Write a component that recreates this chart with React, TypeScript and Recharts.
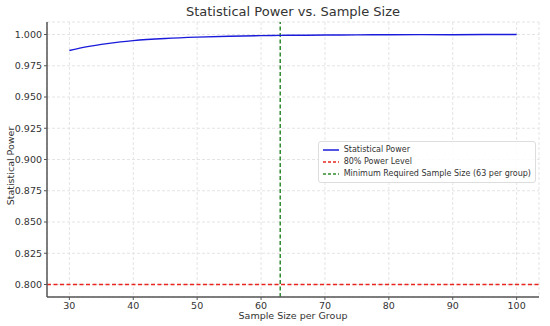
import {
  CartesianGrid,
  Line,
  LineChart,
  ReferenceLine,
  XAxis,
  YAxis,
} from "recharts";

const sampleSizes = [30, 32, 35, 38, 40, 45, 50, 55, 60, 63, 65, 70, 75, 80, 85, 90, 95, 100];
const powerValues = [
  0.9872, 0.9895, 0.9921, 0.9941, 0.9951, 0.9968, 0.9979, 0.9986, 0.9991, 0.9993,
  0.9994, 0.9996, 0.9997, 0.9998, 0.9999, 0.9999, 0.99995, 0.99997,
];
const xTicks = [30, 40, 50, 60, 70, 80, 90, 100];
const yTicks = [0.8, 0.825, 0.85, 0.875, 0.9, 0.925, 0.95, 0.975, 1.0];

const powerThreshold = 0.8;
const requiredSize = 63;

const data = sampleSizes.map((n, i) => ({ n, power: powerValues[i] }));

const font = "DejaVu Sans, sans-serif";
const tickStyle = { fontSize: 9.5, fill: "#333", fontFamily: font };

function LegendBox() {
  const items = [
    { label: "Statistical Power", color: "#1a1adb", dash: undefined },
    { label: "80% Power Level", color: "#e8271c", dash: "3 2" },
    { label: "Minimum Required Sample Size (63 per group)", color: "#2f8a2f", dash: "3 2" },
  ];
  return (
    <div
      style={{
        position: "absolute",
        right: 14,
        top: 141,
        border: "1px solid #ddd",
        borderRadius: 3,
        background: "rgba(255,255,255,0.85)",
        padding: "2px 4px 2px 4px",
        fontFamily: font,
        fontSize: 8,
        color: "#333",
        lineHeight: "12px",
        whiteSpace: "nowrap",
      }}
    >
      {items.map((it) => (
        <div key={it.label} style={{ display: "flex", alignItems: "center" }}>
          <svg width={16} height={8} style={{ marginRight: 5 }}>
            <line x1={0} y1={4} x2={16} y2={4} stroke={it.color} strokeWidth={1.5} strokeDasharray={it.dash} />
          </svg>
          {it.label}
        </div>
      ))}
    </div>
  );
}

export default function App() {
  return (
    <div style={{ position: "absolute", left: 0, top: 0, width: 550, height: 326, background: "#fff" }}>
      <LineChart
        width={550}
        height={326}
        data={data}
        margin={{ top: 22, right: 11, bottom: 0, left: 0 }}
      >
        <CartesianGrid stroke="#e4e4e4" strokeDasharray="3 2" />
        <XAxis
          dataKey="n"
          type="number"
          domain={[26.5, 103.5]}
          ticks={xTicks}
          height={29}
          tick={tickStyle}
          tickSize={3}
          axisLine={{ stroke: "#555", strokeWidth: 1.5 }}
          tickLine={{ stroke: "#555" }}
          allowDataOverflow
        />
        <YAxis
          type="number"
          domain={[0.79, 1.01]}
          ticks={yTicks}
          width={47}
          tick={tickStyle}
          tickSize={3}
          tickFormatter={(v: number) => v.toFixed(3)}
          axisLine={{ stroke: "#555", strokeWidth: 1.5 }}
          tickLine={{ stroke: "#555" }}
          allowDataOverflow
        />
        <ReferenceLine y={powerThreshold} stroke="#e8271c" strokeWidth={1.5} strokeDasharray="4 2.5" />
        <ReferenceLine x={requiredSize} stroke="#2f8a2f" strokeWidth={1.5} strokeDasharray="4 2.5" />
        <Line
          dataKey="power"
          type="monotone"
          stroke="#1a1adb"
          strokeWidth={1.5}
          dot={false}
          isAnimationActive={false}
        />
      </LineChart>
      <div
        style={{
          position: "absolute",
          top: 4,
          left: 47,
          width: 492,
          textAlign: "center",
          fontFamily: font,
          fontSize: 13,
          color: "#333",
        }}
      >
        Statistical Power vs. Sample Size
      </div>
      <div
        style={{
          position: "absolute",
          left: 10,
          top: 166,
          transform: "translate(-50%, -50%) rotate(-90deg)",
          fontFamily: font,
          fontSize: 9.5,
          color: "#333",
          whiteSpace: "nowrap",
        }}
      >
        Statistical Power
      </div>
      <div
        style={{
          position: "absolute",
          top: 310,
          left: 47,
          width: 492,
          textAlign: "center",
          fontFamily: font,
          fontSize: 9.5,
          color: "#333",
        }}
      >
        Sample Size per Group
      </div>
      <LegendBox />
    </div>
  );
}
